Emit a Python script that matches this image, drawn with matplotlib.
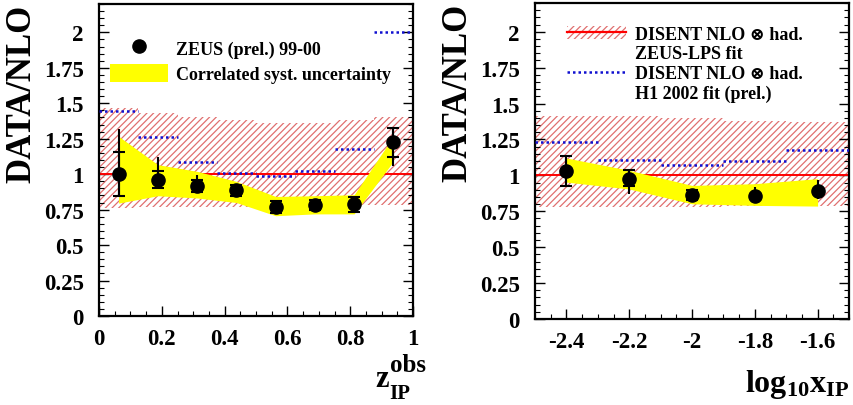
import numpy as np
import matplotlib
matplotlib.use("Agg")
import matplotlib.pyplot as plt
from matplotlib.ticker import MultipleLocator, FixedLocator
from matplotlib.lines import Line2D
from matplotlib.patches import Patch

plt.rcParams['font.family'] = ['Liberation Serif', 'DejaVu Serif']
plt.rcParams['font.weight'] = 'bold'
plt.rcParams['mathtext.fontset'] = 'custom'
plt.rcParams['mathtext.rm'] = 'Liberation Serif:bold'
plt.rcParams['mathtext.it'] = 'Liberation Serif:bold'
plt.rcParams['mathtext.bf'] = 'Liberation Serif:bold'
plt.rcParams['hatch.linewidth'] = 0.9

# ---- left panel: z_IP^obs ----
z_edges = [0, 0.125, 0.25, 0.375, 0.5, 0.625, 0.75, 0.875, 1.0]
z_centres = [0.0625, 0.1875, 0.3125, 0.4375, 0.5625, 0.6875, 0.8125, 0.9375]
z_ratio = [1.00, 0.96, 0.915, 0.886, 0.768, 0.78, 0.789, 1.227]
z_stat_hi = [1.159, 1.02, 0.96, 0.926, 0.808, 0.82, 0.836, 1.326]
z_stat_lo = [0.848, 0.902, 0.874, 0.848, 0.726, 0.744, 0.733, 1.119]
z_tot_hi = [1.319, 1.119, 0.996, 0.926, 0.808, 0.82, 0.836, 1.326]
z_tot_lo = [0.848, 0.902, 0.874, 0.848, 0.726, 0.744, 0.733, 1.055]
z_band_hi = [1.267, 1.067, 1.02, 0.949, 0.843, 0.848, 0.855, 1.267]
z_band_lo = [0.796, 0.848, 0.832, 0.80, 0.707, 0.72, 0.72, 1.09]
z_h1 = [1.449, 1.26, 1.083, 1.005, 0.985, 1.025, 1.178, 2.0]
z_lps_hi = [1.47, 1.43, 1.40, 1.38, 1.36, 1.36, 1.38, 1.40]
z_lps_lo = [0.76, 0.77, 0.77, 0.77, 0.77, 0.77, 0.78, 0.78]

# ---- right panel: log10 x_IP ----
x_edges = [-2.5, -2.3, -2.1, -1.9, -1.7, -1.5]
x_centres = [-2.4, -2.2, -2.0, -1.8, -1.6]
x_ratio = [1.028, 0.977, 0.861, 0.854, 0.889]
x_stat_hi = [1.135, 1.04, 0.896, 0.854, 0.889]
x_stat_lo = [0.925, 0.926, 0.826, 0.854, 0.889]
x_tot_hi = [1.135, 1.04, 0.896, 0.919, 0.966]
x_tot_lo = [0.925, 0.872, 0.826, 0.814, 0.837]
x_band_hi = [1.121, 1.035, 0.93, 0.942, 0.977]
x_band_lo = [0.953, 0.905, 0.802, 0.791, 0.786]
x_h1 = [1.233, 1.105, 1.075, 1.103, 1.175]
x_lps_hi = [1.41, 1.41, 1.40, 1.38, 1.37]
x_lps_lo = [0.78, 0.78, 0.78, 0.79, 0.79]

yellow = '#ffff00'
hatch_red = '#e07070'
blue = '#1010d0'


def panel(ax, edges, centres, ratio, s_hi, s_lo, t_hi, t_lo, b_hi, b_lo, h1, l_hi, l_lo):
    edges = np.array(edges)
    ax.fill_between(edges, np.r_[l_lo, l_lo[-1]], np.r_[l_hi, l_hi[-1]], step='post',
                    facecolor='none', edgecolor=hatch_red, hatch='/////', linewidth=0, zorder=1)
    ax.axhline(1.0, color='red', lw=1.4, zorder=2)
    ax.hlines(h1, edges[:-1], edges[1:], colors=blue, linestyles=(0, (1, 1.2)), lw=1.8, zorder=3)
    ax.fill_between(centres, b_lo, b_hi, color=yellow, lw=0, zorder=4)
    r = np.array(ratio)
    ax.errorbar(centres, r, yerr=[r - np.array(t_lo), np.array(t_hi) - r], fmt='none',
                ecolor='black', elinewidth=1.5, capsize=0, zorder=5)
    ax.errorbar(centres, r, yerr=[r - np.array(s_lo), np.array(s_hi) - r], fmt='o',
                color='black', ms=9.5, elinewidth=1.5, capsize=4.5, capthick=1.5, zorder=6)
    ax.set_ylim(0, 2.2)
    ax.yaxis.set_major_locator(FixedLocator([0, 0.25, 0.5, 0.75, 1, 1.25, 1.5, 1.75, 2]))
    ax.yaxis.set_minor_locator(MultipleLocator(0.05))
    ax.xaxis.set_minor_locator(MultipleLocator(0.05))
    ax.tick_params(which='both', direction='in', right=True, labelsize=16.5)
    ax.tick_params(which='major', length=7, width=1)
    ax.tick_params(which='minor', length=3.5, width=0.8)
    ax.tick_params(axis='y', pad=11)
    ax.tick_params(axis='x', pad=9)
    for sp in ax.spines.values():
        sp.set_linewidth(1.6)
    ax.set_ylabel('DATA/NLO', fontsize=25, fontweight='bold', loc='top', labelpad=4)


def fmt(v, pos=None):
    return '%g' % v


fig = plt.figure(figsize=(8.54, 4.06), dpi=100)
ax1 = fig.add_axes([99 / 854, 1 - 317 / 406, 314 / 854, 312 / 406])
ax2 = fig.add_axes([535 / 854, 1 - 320 / 406, 314 / 854, 316 / 406])

panel(ax1, z_edges, z_centres, z_ratio, z_stat_hi, z_stat_lo, z_tot_hi, z_tot_lo,
      z_band_hi, z_band_lo, z_h1, z_lps_hi, z_lps_lo)
panel(ax2, x_edges, x_centres, x_ratio, x_stat_hi, x_stat_lo, x_tot_hi, x_tot_lo,
      x_band_hi, x_band_lo, x_h1, x_lps_hi, x_lps_lo)

for ax in (ax1, ax2):
    ax.yaxis.set_major_formatter(plt.FuncFormatter(fmt))
    ax.xaxis.set_major_formatter(plt.FuncFormatter(fmt))

ax1.set_xlim(0, 1)
ax1.xaxis.set_major_locator(FixedLocator([0, 0.2, 0.4, 0.6, 0.8, 1.0]))
ax2.set_xlim(-2.5, -1.5)
ax2.xaxis.set_major_locator(FixedLocator([-2.4, -2.2, -2.0, -1.8, -1.6]))

# legends
ax1.legend(
    handles=[Line2D([], [], color='black', marker='o', ms=9.5, ls='none'),
             Patch(facecolor=yellow, edgecolor='none')],
    labels=['ZEUS (prel.) 99-00', 'Correlated syst. uncertainty'],
    loc='upper left', bbox_to_anchor=(0.025, 0.90), frameon=False, fontsize=13,
    handlelength=3.2, handleheight=1.2, handletextpad=0.45, labelspacing=0.3,
    borderaxespad=0.0, borderpad=0.2)

empty = Line2D([], [], ls='none')
lps_handle = (Patch(facecolor='none', edgecolor=hatch_red, hatch='/////', lw=0),
              Line2D([], [], color='red', lw=1.6))
ax2.legend(
    handles=[lps_handle, empty, Line2D([], [], color=blue, ls=(0, (1, 1.2)), lw=1.8), empty],
    labels=['DISENT NLO \u2297 had.', 'ZEUS-LPS fit', 'DISENT NLO \u2297 had.', 'H1 2002 fit (prel.)'],
    loc='upper left', bbox_to_anchor=(0.09, 0.94), frameon=False, fontsize=13,
    handlelength=3.3, handletextpad=0.45, labelspacing=0.15,
    borderaxespad=0.0, borderpad=0.2)

# axis titles
fig.text(426 / 854, 1 - 372 / 406, 'obs', fontsize=18, fontweight='bold', ha='right', va='baseline')
fig.text(375 / 854, 1 - 387 / 406, 'z', fontsize=22, fontweight='bold', ha='left', va='baseline')
fig.text(389 / 854, 1 - 399 / 406, 'IP', fontsize=15, fontweight='bold', ha='left', va='baseline')
fig.text(849 / 854, 1 - 392 / 406, r'$\mathrm{log_{10}x_{IP}}$', fontsize=23, ha='right', va='baseline')

fig.savefig('out.png', dpi=100)
